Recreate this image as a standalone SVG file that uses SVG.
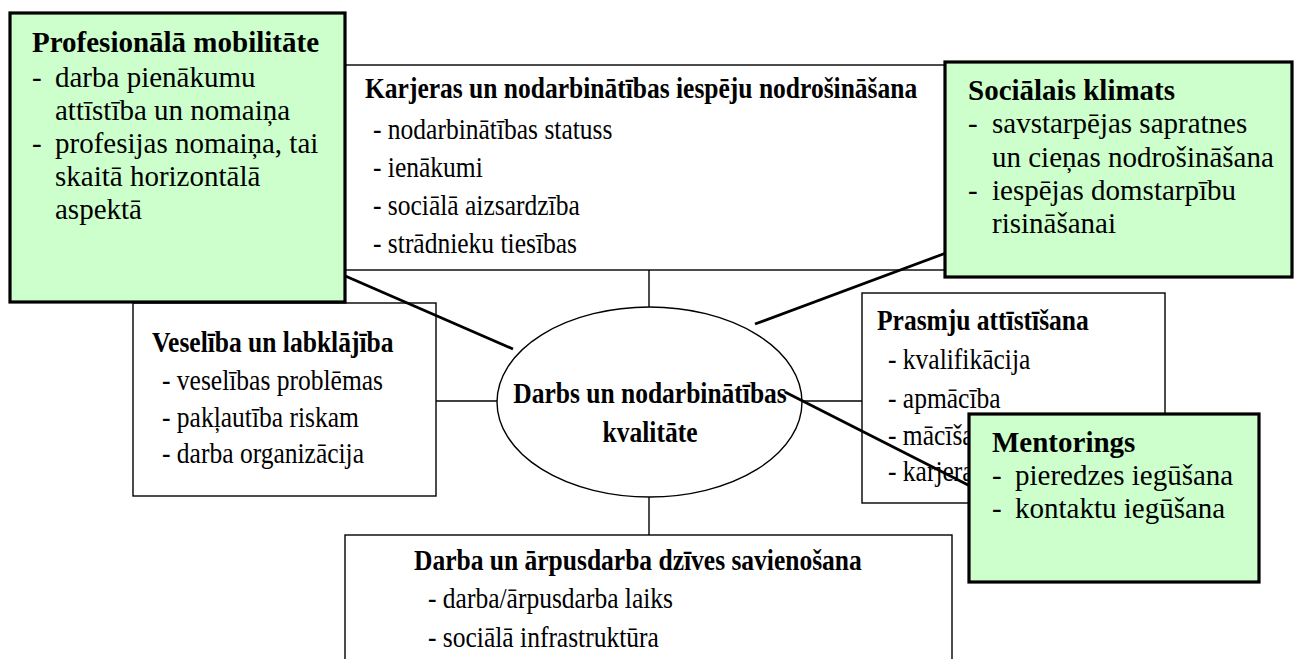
<svg xmlns="http://www.w3.org/2000/svg" width="1295" height="659" viewBox="0 0 1295 659" font-family="'Liberation Serif', 'Times New Roman', serif">
<style>
.bg{fill:#ffffff}
.box{fill:#ffffff;stroke:#000;stroke-width:1.4}
.gbox{fill:#ccffcc;stroke:#000;stroke-width:3.2}
.thin{stroke:#000;stroke-width:1.4;fill:none}
.thick{stroke:#000;stroke-width:2.8;fill:none}
text{font-family:'Liberation Serif','Times New Roman',serif;font-size:29px;fill:#000}
.b{font-weight:bold}
.mid{text-anchor:middle}
</style>
<rect class="bg" x="0" y="0" width="1295" height="659"/>

<g id="node-karjeras">
<rect class="box" x="300" y="65" width="700" height="205"/>
<text class="b" transform="translate(365,98) scale(0.88,1)">Karjeras un nodarbinātības iespēju nodrošināšana</text>
<text transform="translate(373,139) scale(0.88,1)">- nodarbinātības statuss</text>
<text transform="translate(373,177) scale(0.88,1)">- ienākumi</text>
<text transform="translate(373,215) scale(0.88,1)">- sociālā aizsardzība</text>
<text transform="translate(373,253) scale(0.88,1)">- strādnieku tiesības</text>
</g>

<g id="node-veseliba">
<rect class="box" x="133" y="303" width="303" height="193"/>
<text class="b" transform="translate(152,352) scale(0.88,1)">Veselība un labklājība</text>
<text transform="translate(162,390) scale(0.88,1)">- veselības problēmas</text>
<text transform="translate(162,427) scale(0.88,1)">- pakļautība riskam</text>
<text transform="translate(162,463) scale(0.88,1)">- darba organizācija</text>
</g>

<g id="node-prasmju">
<rect class="box" x="862" y="293" width="303" height="210"/>
<text class="b" transform="translate(877,330) scale(0.88,1)">Prasmju attīstīšana</text>
<text transform="translate(888,369) scale(0.88,1)">- kvalifikācija</text>
<text transform="translate(888,408) scale(0.88,1)">- apmācība</text>
<text transform="translate(888,445) scale(0.88,1)">- mācīša</text>
<text transform="translate(888,481) scale(0.88,1)">- karjera</text>
</g>

<g id="node-darba-arpusdarba">
<rect class="box" x="345" y="535" width="607" height="140"/>
<text class="b" transform="translate(414,570) scale(0.88,1)">Darba un ārpusdarba dzīves savienošana</text>
<text transform="translate(428,608) scale(0.88,1)">- darba/ārpusdarba laiks</text>
<text transform="translate(428,647) scale(0.88,1)">- sociālā infrastruktūra</text>
</g>

<g id="node-center">
<ellipse class="box" cx="649.5" cy="402" rx="152.5" ry="95"/>
<text class="b mid" transform="translate(650,403) scale(0.88,1)">Darbs un nodarbinātības</text>
<text class="b mid" transform="translate(650,442) scale(0.88,1)">kvalitāte</text>
</g>

<g id="connectors">
<line class="thin" x1="649" y1="270" x2="649" y2="307"/>
<line class="thin" x1="649" y1="497" x2="649" y2="535"/>
<line class="thin" x1="436" y1="401" x2="497" y2="401"/>
<line class="thin" x1="802" y1="401" x2="862" y2="401"/>
<line class="thick" x1="343" y1="275" x2="513" y2="349"/>
<line class="thick" x1="946" y1="253" x2="755" y2="324"/>
<line class="thick" x1="785" y1="392" x2="972" y2="487"/>
</g>

<g id="node-profesionala">
<rect class="gbox" x="10" y="13" width="335" height="289"/>
<text class="b" x="32" y="52">Profesionālā mobilitāte</text>
<text x="32" y="87">-</text>
<text x="55" y="87">darba pienākumu</text>
<text x="55" y="120">attīstība un nomaiņa</text>
<text x="32" y="153">-</text>
<text x="55" y="153">profesijas nomaiņa, tai</text>
<text x="55" y="186">skaitā horizontālā</text>
<text x="55" y="219">aspektā</text>
</g>

<g id="node-socialais">
<rect class="gbox" x="945" y="62" width="347" height="215"/>
<text class="b" x="968" y="100">Sociālais klimats</text>
<text x="968" y="133">-</text>
<text x="992" y="133">savstarpējas sapratnes</text>
<text x="992" y="167">un cieņas nodrošināšana</text>
<text x="968" y="200">-</text>
<text x="992" y="200">iespējas domstarpību</text>
<text x="992" y="233">risināšanai</text>
</g>

<g id="node-mentorings">
<rect class="gbox" x="969" y="414" width="290" height="168"/>
<text class="b" x="992" y="452">Mentorings</text>
<text x="992" y="485">-</text>
<text x="1015" y="485">pieredzes iegūšana</text>
<text x="992" y="518">-</text>
<text x="1015" y="518">kontaktu iegūšana</text>
</g>
</svg>
